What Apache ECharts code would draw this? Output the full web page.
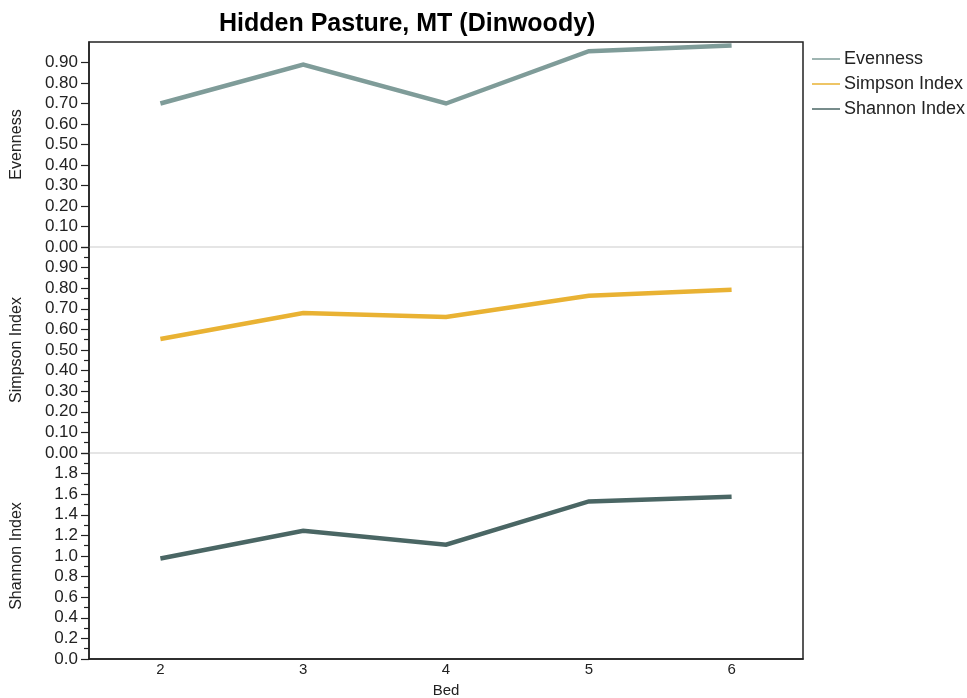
<!DOCTYPE html>
<html>
<head>
<meta charset="utf-8">
<script src="https://cdn.jsdelivr.net/npm/echarts@6/dist/echarts.min.js"></script>
<style>
  html, body { margin: 0; padding: 0; background: #fff; }
  #chart { width: 967px; height: 698px; }
</style>
</head>
<body>
<div id="chart"></div>
<script>
// Diversity metrics by bed, Hidden Pasture, MT (Dinwoody)
const beds = ['2', '3', '4', '5', '6'];
const evenness = [0.70, 0.89, 0.70, 0.955, 0.983];
const simpson = [0.553, 0.68, 0.66, 0.763, 0.793];
const shannon = [0.975, 1.245, 1.11, 1.53, 1.575];

const seriesNames = ['Evenness', 'Simpson Index', 'Shannon Index'];
const colors = ['#7f9c99', '#e9b233', '#4a6664'];

const FONT = '"Liberation Sans", Arial, Helvetica, sans-serif';
const TEXT = '#222';

const chart = echarts.init(document.getElementById('chart'));

// three stacked panels sharing the bed axis, plus an outer frame
const panels = [
  { top: 42, bottom: 451 },
  { top: 247, bottom: 245 },
  { top: 453, bottom: 39 }
];

function xAxisFor(i, last) {
  return {
    type: 'category',
    gridIndex: i,
    data: beds,
    boundaryGap: true,
    axisLine: { show: true, onZero: false, lineStyle: { color: last ? '#222' : '#dddddd', width: 1.5 } },
    axisTick: { show: false },
    axisLabel: { show: last, color: TEXT, fontSize: 15, fontFamily: FONT, margin: 3 },
    name: last ? 'Bed' : '',
    nameLocation: 'middle',
    nameGap: 24,
    nameTextStyle: { color: TEXT, fontSize: 15, fontFamily: FONT },
    splitLine: { show: false }
  };
}

function yAxisFor(i, name, max, interval, digits, minor) {
  return {
    type: 'value',
    gridIndex: i,
    min: 0,
    max: max,
    interval: interval,
    name: name,
    nameLocation: 'middle',
    nameGap: 64,
    nameTextStyle: { color: TEXT, fontSize: 16, fontFamily: FONT },
    axisLine: { show: true, lineStyle: { color: '#222', width: 1.5 } },
    axisTick: { show: true, length: 8, lineStyle: { color: '#222', width: 1.2 } },
    minorTick: { show: minor, splitNumber: 2, length: 5, lineStyle: { color: '#222', width: 1.2 } },
    axisLabel: {
      color: TEXT, fontSize: 17, fontFamily: FONT, margin: 11,
      showMaxLabel: false,
      formatter: v => v.toFixed(digits)
    },
    splitLine: { show: false },
    minorSplitLine: { show: false }
  };
}

const grids = panels.map(p => ({
  left: 89, right: 164, top: p.top, bottom: p.bottom,
  containLabel: false, outerBoundsMode: 'none'
}));
grids.push({
  left: 89, right: 164, top: 42, bottom: 39, outerBoundsMode: 'none',
  show: true, borderColor: '#222', borderWidth: 1.5, backgroundColor: 'transparent', z: 5
});

const option = {
  animation: false,
  backgroundColor: '#fff',
  textStyle: { fontFamily: FONT },
  title: {
    text: 'Hidden Pasture, MT (Dinwoody)',
    left: 214,
    top: 7,
    textStyle: { fontSize: 25, fontWeight: 'bold', color: '#000', fontFamily: FONT }
  },
  legend: {
    data: seriesNames,
    orient: 'vertical',
    left: 807,
    top: 45,
    itemGap: 7,
    itemWidth: 28,
    itemHeight: 1.5,
    icon: 'rect',
    textStyle: { color: TEXT, fontSize: 18, fontFamily: FONT, padding: [0, 0, 0, -1] }
  },
  grid: grids,
  xAxis: [
    xAxisFor(0, false),
    xAxisFor(1, false),
    xAxisFor(2, true),
    { type: 'category', gridIndex: 3, data: beds, show: false }
  ],
  yAxis: [
    yAxisFor(0, 'Evenness', 1, 0.1, 2, false),
    yAxisFor(1, 'Simpson Index', 1, 0.1, 2, true),
    yAxisFor(2, 'Shannon Index', 2, 0.2, 1, true),
    { type: 'value', gridIndex: 3, show: false, min: 0, max: 1 }
  ],
  series: [
    { name: seriesNames[0], data: evenness, xAxisIndex: 0, yAxisIndex: 0 },
    { name: seriesNames[1], data: simpson, xAxisIndex: 1, yAxisIndex: 1 },
    { name: seriesNames[2], data: shannon, xAxisIndex: 2, yAxisIndex: 2 }
  ].map((s, i) => Object.assign({
    type: 'line',
    showSymbol: false,
    symbol: 'none',
    color: colors[i],
    lineStyle: { color: colors[i], width: 4.5, cap: 'butt', join: 'miter' },
    itemStyle: { color: colors[i] },
    z: 3
  }, s))
};

chart.setOption(option);
</script>
</body>
</html>
